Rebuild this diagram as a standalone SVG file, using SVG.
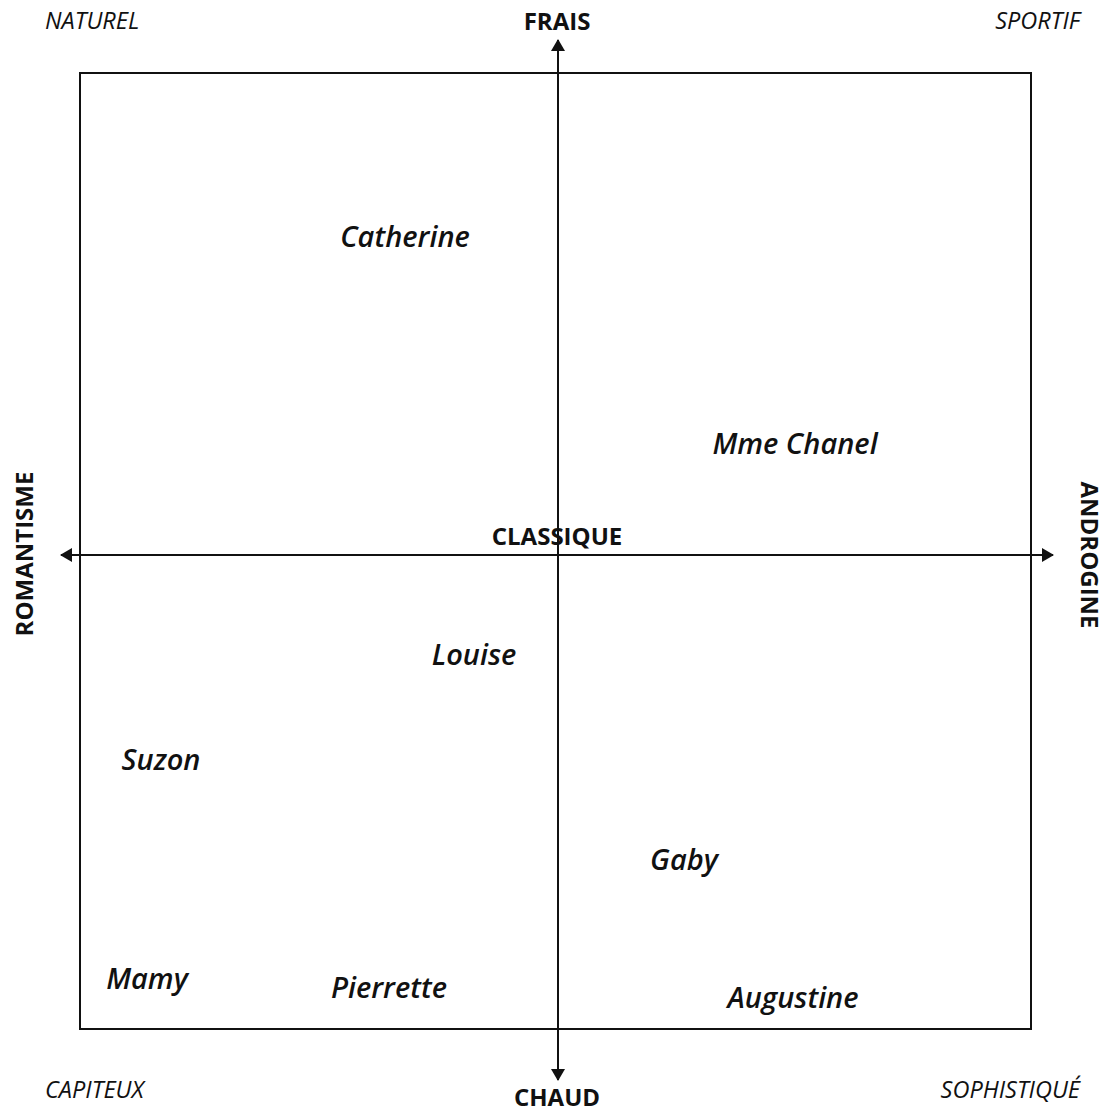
<svg xmlns="http://www.w3.org/2000/svg" width="1107" height="1111" viewBox="0 0 1107 1111">
<style>
.ax{font-family:"Open Sans","Noto Sans",sans-serif;font-weight:700;font-size:24px;fill:#111;text-anchor:middle}
.cr{font-family:"Open Sans","Noto Sans",sans-serif;font-style:italic;font-size:23.5px;fill:#111}
.nm{font-family:"Open Sans","Noto Sans",sans-serif;font-style:italic;font-weight:600;font-size:29px;fill:#111;text-anchor:middle}
.ln{stroke:#111;stroke-width:2;fill:none}
</style>
<defs>
<marker id="ar" viewBox="0 0 12 14" refX="11" refY="7" markerWidth="12" markerHeight="14" orient="auto" markerUnits="userSpaceOnUse">
<path d="M0,0 L12,7 L0,14 z" fill="#111"/>
</marker>
</defs>
<rect width="1107" height="1111" fill="#fff"/>
<g id="frame"><rect x="80" y="73" width="951" height="956" class="ln"/></g>
<g id="connectors">
<line x1="558" y1="555" x2="558" y2="40" class="ln" marker-end="url(#ar)"/>
<line x1="558" y1="555" x2="558" y2="1080" class="ln" marker-end="url(#ar)"/>
<line x1="558" y1="555" x2="61" y2="555" class="ln" marker-end="url(#ar)"/>
<line x1="558" y1="555" x2="1053" y2="555" class="ln" marker-end="url(#ar)"/>
</g>
<g id="axis-labels">
<text class="ax" x="557" y="30">FRAIS</text>
<text class="ax" x="557" y="545">CLASSIQUE</text>
<text class="ax" x="557" y="1106">CHAUD</text>
<text class="ax" transform="translate(33,554) rotate(-90)">ROMANTISME</text>
<text class="ax" transform="translate(1081,555) rotate(90)">ANDROGINE</text>
</g>
<g id="corners">
<text class="cr" x="45" y="29">NATUREL</text>
<text class="cr" x="1080" y="29" text-anchor="end">SPORTIF</text>
<text class="cr" x="45" y="1098">CAPITEUX</text>
<text class="cr" x="1080" y="1098" text-anchor="end">SOPHISTIQUÉ</text>
</g>
<g id="catherine"><text class="nm" x="405" y="247">Catherine</text></g>
<g id="mme-chanel"><text class="nm" x="795" y="454">Mme Chanel</text></g>
<g id="louise"><text class="nm" x="474" y="665">Louise</text></g>
<g id="suzon"><text class="nm" x="161" y="770">Suzon</text></g>
<g id="gaby"><text class="nm" x="684" y="870">Gaby</text></g>
<g id="mamy"><text class="nm" x="147" y="989">Mamy</text></g>
<g id="pierrette"><text class="nm" x="389" y="998">Pierrette</text></g>
<g id="augustine"><text class="nm" x="793" y="1008">Augustine</text></g>
</svg>
